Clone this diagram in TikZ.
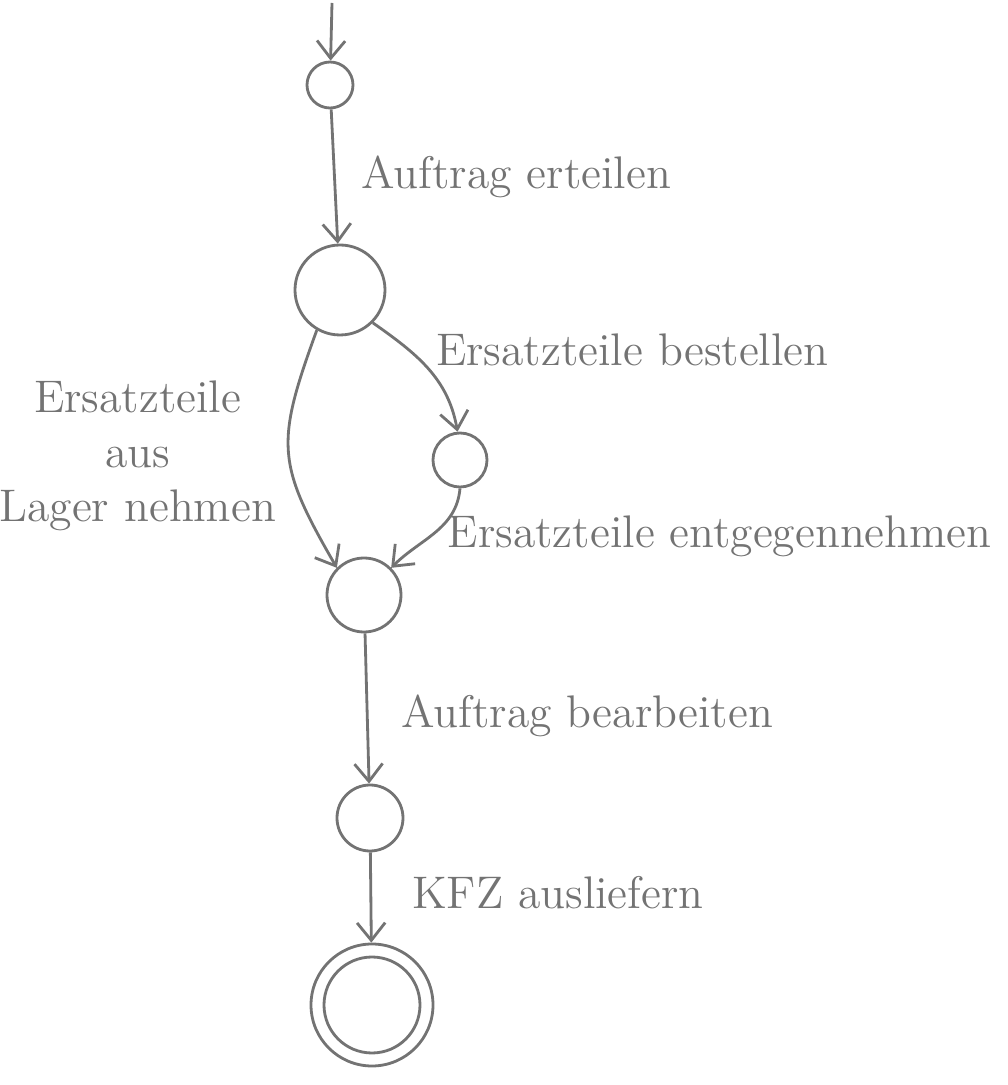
\documentclass[tikz,border=0pt]{standalone}
\usepackage{tikz}
\usetikzlibrary{positioning}
\usetikzlibrary{arrows.meta}
\usepackage{xcolor}
\definecolor{pencil}{gray}{0.45}

\begin{document}
\begin{tikzpicture}[
    scale=1.0,
    state/.style={draw=pencil, circle, line width=0.8pt, inner sep=0pt},
    trans/.style={draw=pencil, line width=0.8pt,
        -{Straight Barb[length=5pt,width=8pt,line width=0.8pt]}},
    lbl/.style={text=pencil, font=\fontsize{13}{15.5}\selectfont}
  ]
  \useasboundingbox (0,0) rectangle (10.07,10.85);

  \coordinate (init) at (3.32, 10.82);

  \node[state, minimum size=0.46cm] (start) at (3.30, 10.00) {};
  \node[state, minimum size=0.90cm] (given) at (3.40, 7.95) {};
  \node[state, minimum size=0.54cm] (ordered) at (4.60, 6.25) {};
  \node[state, minimum size=0.74cm] (parts) at (3.64, 4.90) {};
  \node[state, minimum size=0.66cm] (done) at (3.70, 2.67) {};

  \node[state, minimum size=1.22cm] (final) at (3.72, 0.80) {};
  \node[state, minimum size=0.96cm] (finalin) at (final.center) {};

  \draw[trans] (init) -- (start);
  \draw[trans] (start) -- (given)
      node[lbl, right=4pt, pos=0.5] {Auftrag erteilen};

  \draw[trans] (given.240) to[out=250, in=120, looseness=1.3]
      node[lbl, left=0pt, pos=0.52, align=center] {Ersatzteile\\aus\\Lager nehmen}
      (parts.135);

  \draw[trans] (given.-45) to[out=-35, in=100]
      node[lbl, right=4pt, pos=0.3] {Ersatzteile bestellen}
      (ordered.95);

  \draw[trans] (ordered.270) to[out=-95, in=45]
      node[lbl, right=1pt, pos=0.55] {Ersatzteile entgegennehmen}
      (parts.45);

  \draw[trans] (parts) -- (done)
      node[lbl, right=6pt, pos=0.55] {Auftrag bearbeiten};
  \draw[trans] (done) -- (final)
      node[lbl, right=8pt, pos=0.45] {KFZ ausliefern};

\end{tikzpicture}
\end{document}
